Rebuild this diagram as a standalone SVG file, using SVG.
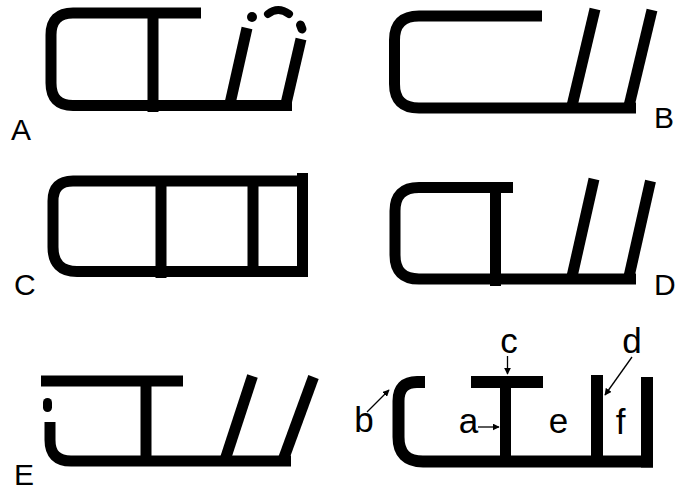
<svg xmlns="http://www.w3.org/2000/svg" width="676" height="493" viewBox="0 0 676 493">
<style>
.s{fill:none;stroke:#000;stroke-width:11;stroke-linecap:butt;stroke-linejoin:miter}
.cap{font-family:"Liberation Sans",Arial,sans-serif;font-size:30px;fill:#000}
.lab{font-family:"Liberation Sans",Arial,sans-serif;font-size:35px;fill:#000;text-anchor:middle}
.ar{fill:none;stroke:#000;stroke-width:1.3}
</style>
<defs>
<marker id="ah" viewBox="0 0 10 10" refX="9" refY="5" markerWidth="7" markerHeight="7" markerUnits="userSpaceOnUse" orient="auto">
<path d="M0,0 L10,5 L0,10 Z" fill="#000"/>
</marker>
</defs>
<rect width="676" height="493" fill="#fff"/>
<g id="panelA">
<path class="s" d="M201,13 H73 Q51,13 51,35 V83 Q51,105.5 73,105.5 H292"/>
<line class="s" x1="153" y1="13" x2="153" y2="112"/>
<line class="s" x1="229" y1="108" x2="247" y2="28"/>
<line class="s" x1="285" y1="108" x2="301" y2="39"/>
<circle cx="252" cy="17" r="5"/>
<path d="M268,14 Q278,6 289,14" fill="none" stroke="#000" stroke-width="8" stroke-linecap="round"/>
<line x1="300.5" y1="25" x2="302" y2="29" stroke="#000" stroke-width="9" stroke-linecap="round"/>
<text class="cap" x="11" y="140">A</text>
</g>
<g id="panelB">
<path class="s" d="M542,16 H419 Q394.5,16 394.5,40 V84 Q394.5,108 419,108 H636"/>
<line class="s" x1="571" y1="110" x2="595" y2="9"/>
<line class="s" x1="628" y1="110" x2="652" y2="10"/>
<text class="cap" x="654" y="128">B</text>
</g>
<g id="panelC">
<path class="s" d="M302,181 H73 Q53,181 53,201 V247 Q53,271.5 77,271.5 H302"/>
<line class="s" x1="302.5" y1="173" x2="302.5" y2="277"/>
<line class="s" x1="161" y1="181" x2="161" y2="278"/>
<line class="s" x1="253" y1="181" x2="253" y2="272"/>
<text class="cap" x="14" y="295">C</text>
</g>
<g id="panelD">
<path class="s" d="M513,187.5 H419 Q395,187.5 395,211 V255 Q395,279 419,279 H636"/>
<line class="s" x1="495.5" y1="187.5" x2="495.5" y2="286"/>
<line class="s" x1="571" y1="281" x2="594" y2="179"/>
<line class="s" x1="628" y1="281" x2="650.5" y2="181"/>
<text class="cap" x="654" y="295">D</text>
</g>
<g id="panelE">
<line class="s" x1="41" y1="381" x2="183" y2="381"/>
<line class="s" x1="146" y1="381" x2="146" y2="461"/>
<line x1="47.5" y1="402.5" x2="47.5" y2="407.5" stroke="#000" stroke-width="9" stroke-linecap="round"/>
<path class="s" d="M50,422 V440 Q50,461 71,461 H291"/>
<line class="s" x1="224" y1="463" x2="252.5" y2="376"/>
<line class="s" x1="282" y1="463" x2="313.5" y2="377"/>
<text class="cap" x="14" y="485">E</text>
</g>
<g id="panelF">
<path class="s" d="M425,382 H417 Q398.5,382 398.5,401 V437 Q398.5,461.5 423,461.5 H653" style="stroke-width:12"/>
<line class="s" x1="471" y1="382" x2="543" y2="382" style="stroke-width:12"/>
<line class="s" x1="505.5" y1="382" x2="505.5" y2="462"/>
<line class="s" x1="597" y1="375" x2="597" y2="462" style="stroke-width:12"/>
<line class="s" x1="647" y1="377" x2="647" y2="467.5" style="stroke-width:12"/>
</g>
<g id="connectors">
<line class="ar" x1="507.5" y1="356" x2="507.5" y2="374" marker-end="url(#ah)"/>
<line class="ar" x1="632" y1="357" x2="605" y2="395" marker-end="url(#ah)"/>
<line class="ar" x1="478" y1="427" x2="499" y2="427" marker-end="url(#ah)"/>
<line class="ar" x1="367" y1="412" x2="389" y2="390" marker-end="url(#ah)"/>
</g>
<g id="labels">
<text class="lab" x="509" y="353">c</text>
<text class="lab" x="632" y="353">d</text>
<text class="lab" x="364" y="432">b</text>
<text class="lab" x="468.5" y="433">a</text>
<text class="lab" x="558.5" y="433">e</text>
<text class="lab" x="620.5" y="434">f</text>
</g>
</svg>
